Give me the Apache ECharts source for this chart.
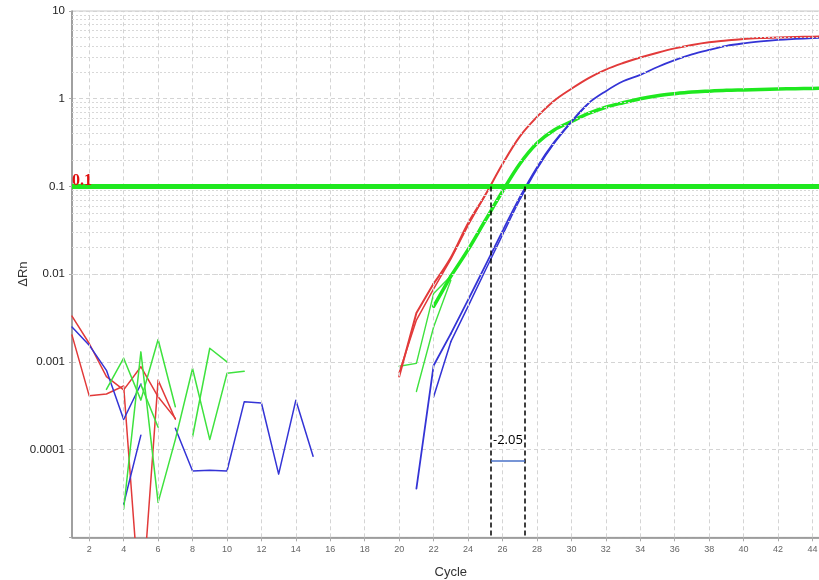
<!DOCTYPE html>
<html><head><meta charset="utf-8">
<script src="https://cdn.jsdelivr.net/npm/echarts@6/dist/echarts.min.js"></script>
<style>html,body{margin:0;padding:0;background:#fff}#c{width:819px;height:580px}</style>
</head><body><div id="c"></div>
<script>
// ---- axis / annotation data ----
const xTickCycles = [2,4,6,8,10,12,14,16,18,20,22,24,26,28,30,32,34,36,38,40,42,44];
const yTickValues = [0.0001, 0.001, 0.01, 0.1, 1, 10];
const yTickLabels = ['0.0001', '0.001', '0.01', '0.1', '1', '10'];
const threshold = 0.1;
const thresholdLabel = '0.1';
const ctRed = 25.33;
const ctBlue = 27.30;
const deltaLevel = 7.45e-5;
const deltaLabel = '-2.05';

// ---- noise traces (early cycles) ----
const redNoiseACycles = [1,2,3,4,5,6,7];
const redNoiseA = [0.00333, 0.00162, 0.00068, 0.00048, 0.00088, 0.00040, 0.000227];
const redNoiseBCycles = [1,2,3,4,5,6,7];
const redNoiseB = [0.00202, 0.00041, 0.00043, 0.00053, 0.0000012, 0.00062, 0.000222];

const blueNoiseACycles = [1,2,3,4,5];
const blueNoiseA = [0.0025, 0.00155, 0.0008, 0.00022, 0.00056];
const blueNoiseBCycles = [4,5];
const blueNoiseB = [0.000024, 0.000146];
const blueNoiseCCycles = [7,8,9,10,11,12,13,14,15];
const blueNoiseC = [0.000175, 0.000057, 0.000058, 0.000057, 0.00035, 0.00034, 0.0000525, 0.000366, 0.000084];

const greenNoiseACycles = [3,4,5,6,7];
const greenNoiseA = [0.000486, 0.0011, 0.000366, 0.0018, 0.000308];
const greenNoiseBCycles = [4,5,6,7,8,9,10,11];
const greenNoiseB = [0.000021, 0.0013, 0.000025, 0.00013, 0.00084, 0.00013, 0.00074, 0.00078];
const greenNoiseCCycles = [5,6];
const greenNoiseC = [0.00055, 0.00018];
const greenNoiseDCycles = [8,9,10];
const greenNoiseD = [0.00014, 0.00143, 0.001];

// ---- amplification curves ----
const redAmp1Cycles = [20,21,22,23,24,25,26,27,28,29,30,31,32,33,34,35,36,37,38,39,40,41,42,43,44,45];
const redAmp1 = [0.00068, 0.0036, 0.0078, 0.0155, 0.038, 0.08, 0.18, 0.37, 0.62, 0.95, 1.3, 1.72, 2.15, 2.55, 2.95, 3.35, 3.75, 4.1, 4.4, 4.6, 4.8, 4.92, 5.0, 5.06, 5.1, 5.14];
const redAmp2Cycles = [20,21,22,23,24,25];
const redAmp2 = [0.00075, 0.0030, 0.0068, 0.0148, 0.036, 0.08];

const blueAmp1Cycles = [21,22,23,24,25,26,27,28,29,30,31,32,33,34,35,36,37,38,39,40,41,42,43,44,45];
const blueAmp1 = [0.000036, 0.00091, 0.0021, 0.0051, 0.0125, 0.031, 0.075, 0.165, 0.32, 0.55, 0.89, 1.22, 1.58, 1.87, 2.3, 2.75, 3.2, 3.6, 4.0, 4.28, 4.5, 4.68, 4.8, 4.9, 4.97];
const blueAmp2Cycles = [22,23,24,25,26,27,28,29,30,31];
const blueAmp2 = [0.0004, 0.0017, 0.0043, 0.011, 0.028, 0.07, 0.158, 0.31, 0.54, 0.88];

const greenAmpCycles = [22,23,24,25,26,27,28,29,30,31,32,33,34,35,36,37,38,39,40,41,42,43,44,45];
const greenAmp = [0.0043, 0.0095, 0.019, 0.041, 0.088, 0.18, 0.31, 0.44, 0.55, 0.68, 0.8, 0.9, 1.0, 1.08, 1.14, 1.19, 1.22, 1.245, 1.26, 1.275, 1.29, 1.3, 1.31, 1.32];
const greenEarlyACycles = [20,21,22,23];
const greenEarlyA = [0.00089, 0.00096, 0.006, 0.0095];
const greenEarlyBCycles = [21,22,23];
const greenEarlyB = [0.00046, 0.0025, 0.0085];

// ---- colors ----
const RED = '#e23a3a', BLUE = '#3434d6', GREEN = '#3ee23e', GREEN_T = '#1fe81f';

function pairs(cs, vs) { return cs.map((c, i) => [c, vs[i]]); }
function line(cs, vs, color, width, smooth) {
  return { type: 'line', data: pairs(cs, vs), symbol: 'none', smooth: smooth || false,
    lineStyle: { color: color, width: width, cap: 'round', join: 'round' }, itemStyle: { color: color }, z: 3, clip: true, silent: true };
}
// amplification curve: straight segments up to splitCycle, smooth afterwards
function ampLines(cs, vs, splitCycle, color, width) {
  const a = [], b = [], av = [], bv = [];
  cs.forEach((c, i) => {
    if (c <= splitCycle) { a.push(c); av.push(vs[i]); }
    if (c >= splitCycle) { b.push(c); bv.push(vs[i]); }
  });
  const out = [];
  if (a.length > 1) out.push(line(a, av, color, width, false));
  if (b.length > 1) out.push(line(b, bv, color, width, 0.35));
  return out;
}

// minor horizontal gridlines (2..9 per decade)
const minorY = [];
for (let d = -5; d <= 0; d++) for (let m = 2; m <= 9; m++) minorY.push(m * Math.pow(10, d));

const labelMap = {};
yTickValues.forEach((v, i) => { labelMap[Math.round(Math.log10(v))] = yTickLabels[i]; });

const gridSeries = {
  type: 'line', data: [], z: 1, silent: true,
  markLine: {
    silent: true, symbol: ['none', 'none'], animation: false, label: { show: false },
    data: [
      ...minorY.map(v => ({ yAxis: v, lineStyle: { color: '#d8d8d8', type: [2, 2], width: 1 } })),
      ...xTickCycles.map(c => ({ xAxis: c, lineStyle: { color: '#d4d4d4', type: [4, 3], width: 1 } }))
    ]
  }
};

const annotSeries = {
  type: 'line', data: [], z: 5, silent: true,
  markLine: {
    silent: true, symbol: ['none', 'none'], animation: false,
    data: [
      { yAxis: threshold, lineStyle: { color: GREEN_T, width: 5, type: 'solid' },
        label: { show: true, formatter: thresholdLabel, position: 'insideStartTop', distance: [0, -2],
          color: '#e01010', fontFamily: 'Liberation Serif', fontWeight: 'bold', fontSize: 16 } },
      [{ coord: [ctRed, threshold], lineStyle: { color: '#000', width: 1.5, type: [5, 3] }, label: { show: false } }, { coord: [ctRed, 1e-5] }],
      [{ coord: [ctBlue, threshold], lineStyle: { color: '#000', width: 1.5, type: [5, 3] }, label: { show: false } }, { coord: [ctBlue, 1e-5] }],
      [{ coord: [ctRed, deltaLevel], lineStyle: { color: '#4a72c8', width: 1.5, type: 'solid' },
         label: { show: true, formatter: deltaLabel, position: 'insideStartTop', distance: [2, 14],
           color: '#000', fontFamily: 'Open Sans', fontSize: 13 } }, { coord: [ctBlue, deltaLevel] }]
    ]
  }
};

const chart = echarts.init(document.getElementById('c'), null, { renderer: 'canvas' });
chart.setOption({
  animation: false,
  backgroundColor: '#fff',
  grid: { left: 72, top: 11, width: 757.7, height: 526.3, containLabel: false, outerBoundsMode: 'none',
    show: true, borderColor: '#c8c8c8', borderWidth: 1, backgroundColor: '#fff' },
  xAxis: {
    type: 'value', min: 1, max: 45,
    name: 'Cycle', nameLocation: 'middle', nameGap: 29, nameMoveOverlap: false,
    nameTextStyle: { fontFamily: 'Liberation Sans', fontSize: 13, color: '#333' },
    axisLine: { show: true, onZero: false, lineStyle: { color: '#8a8a8a', width: 1.5 } },
    axisTick: { show: true, length: 4, customValues: xTickCycles, lineStyle: { color: '#aaa' } },
    axisLabel: { customValues: xTickCycles, fontFamily: 'Liberation Sans', fontSize: 9, color: '#666', margin: 8 },
    splitLine: { show: false }
  },
  yAxis: {
    type: 'log', logBase: 10, min: 1e-5, max: 10, splitNumber: 6,
    name: 'ΔRn', nameLocation: 'middle', nameGap: 42, nameRotate: 90, nameMoveOverlap: false,
    nameTextStyle: { fontFamily: 'Liberation Sans', fontSize: 13, color: '#333' },
    axisLine: { show: true, lineStyle: { color: '#8a8a8a', width: 1.5 } },
    axisTick: { show: true, length: 3, lineStyle: { color: '#aaa' } },
    axisLabel: { fontFamily: 'Liberation Sans', fontSize: 11.5, color: '#222', margin: 7,
      formatter: v => { const e = Math.round(Math.log10(v)); return labelMap[e] !== undefined ? labelMap[e] : ''; } },
    splitLine: { show: true, lineStyle: { color: '#d4d4d4', type: [4, 3], width: 1 } },
    minorSplitLine: { show: false }
  },
  series: [
    gridSeries,
    line(redNoiseACycles, redNoiseA, RED, 1.5),
    line(redNoiseBCycles, redNoiseB, RED, 1.5),
    line(blueNoiseACycles, blueNoiseA, BLUE, 1.5),
    line(blueNoiseBCycles, blueNoiseB, BLUE, 1.5),
    line(blueNoiseCCycles, blueNoiseC, BLUE, 1.5),
    line(greenNoiseACycles, greenNoiseA, GREEN, 1.5),
    line(greenNoiseBCycles, greenNoiseB, GREEN, 1.5),
    line(greenNoiseCCycles, greenNoiseC, GREEN, 1.5),
    line(greenNoiseDCycles, greenNoiseD, GREEN, 1.5),
    line(greenEarlyACycles, greenEarlyA, GREEN, 1.4),
    line(greenEarlyBCycles, greenEarlyB, GREEN, 1.4),
    ...ampLines(greenAmpCycles, greenAmp, 23, GREEN_T, 3.5),
    ...ampLines(blueAmp2Cycles, blueAmp2, 23, BLUE, 1.5),
    ...ampLines(blueAmp1Cycles, blueAmp1, 23, BLUE, 1.8),
    line(redAmp2Cycles, redAmp2, RED, 1.5, false),
    ...ampLines(redAmp1Cycles, redAmp1, 22, RED, 2),
    annotSeries
  ]
});
</script></body></html>
